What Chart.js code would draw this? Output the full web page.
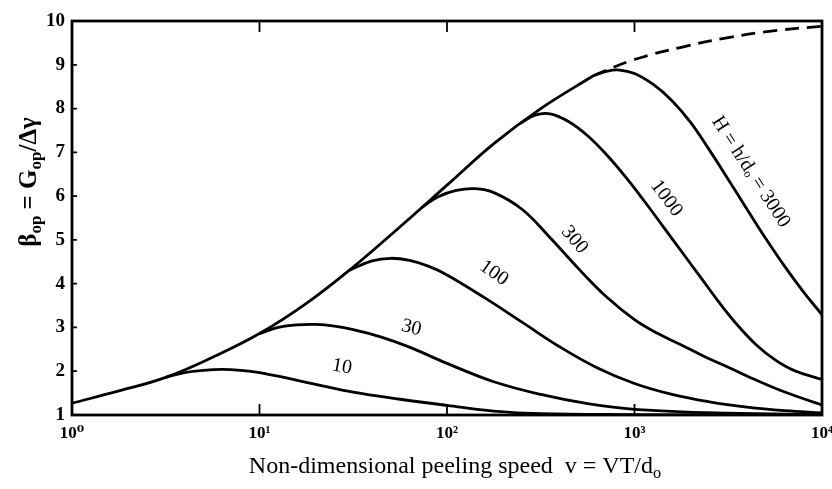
<!DOCTYPE html>
<html>
<head>
<meta charset="utf-8">
<script src="https://cdn.jsdelivr.net/npm/chart.js@4.4.0/dist/chart.umd.min.js"></script>
<style>
  html, body { margin: 0; padding: 0; background: #fff; }
  #wrap { width: 832px; height: 489px; }
</style>
</head>
<body>
<div id="wrap"><canvas id="peelChart"></canvas></div>
<script>
// every curve is a list of [log10(v), beta_op] pairs
const envelope = [
  [0.00, 1.27], [0.25, 1.55], [0.50, 1.86], [0.75, 2.32], [1.00, 2.86],
  [1.25, 3.55], [1.50, 4.38], [1.75, 5.30], [2.00, 6.25], [2.25, 7.20],
  [2.50, 8.00], [2.78, 8.75]
];
const envelopeDashed = [
  [2.78, 8.75], [3.00, 9.12], [3.25, 9.40], [3.50, 9.62], [3.75, 9.78], [4.00, 9.88]
];
const h10 = [
  [0.50, 1.86], [0.60, 1.97], [0.70, 2.02], [0.80, 2.04], [0.90, 2.02], [1.00, 1.97],
  [1.15, 1.84], [1.30, 1.70], [1.50, 1.52], [1.75, 1.36], [2.00, 1.22], [2.25, 1.09],
  [2.50, 1.03], [3.00, 1.01], [3.50, 1.00], [4.00, 1.00]
];
const h30 = [
  [1.00, 2.86], [1.10, 3.00], [1.20, 3.06], [1.30, 3.07], [1.40, 3.03], [1.50, 2.95],
  [1.65, 2.78], [1.80, 2.55], [2.00, 2.18], [2.25, 1.76], [2.50, 1.47], [2.75, 1.26],
  [3.00, 1.13], [3.50, 1.04], [4.00, 1.01]
];
const h100 = [
  [1.48, 4.31], [1.60, 4.52], [1.70, 4.58], [1.80, 4.53], [1.90, 4.40], [2.00, 4.20],
  [2.20, 3.68], [2.40, 3.12], [2.60, 2.56], [2.80, 2.08], [3.00, 1.72], [3.20, 1.47],
  [3.40, 1.30], [3.60, 1.18], [3.80, 1.10], [4.00, 1.05]
];
const h300 = [
  [1.86, 5.72], [1.95, 5.98], [2.05, 6.13], [2.15, 6.17], [2.25, 6.08], [2.40, 5.70],
  [2.55, 5.05], [2.70, 4.35], [2.85, 3.70], [3.00, 3.18], [3.125, 2.86], [3.25, 2.60],
  [3.375, 2.33], [3.50, 2.09], [3.625, 1.84], [3.75, 1.61], [3.875, 1.41], [4.00, 1.23]
];
const h1000 = [
  [2.39, 7.66], [2.47, 7.85], [2.55, 7.88], [2.65, 7.70], [2.75, 7.38], [2.85, 6.95],
  [2.95, 6.45], [3.05, 5.90], [3.15, 5.32], [3.25, 4.74], [3.35, 4.16], [3.45, 3.58],
  [3.55, 3.05], [3.65, 2.60], [3.75, 2.26], [3.85, 2.02], [4.00, 1.81]
];
const h3000 = [
  [2.78, 8.75], [2.85, 8.85], [2.92, 8.88], [3.00, 8.80], [3.10, 8.55], [3.20, 8.18],
  [3.30, 7.68], [3.40, 7.05], [3.50, 6.38], [3.60, 5.70], [3.70, 5.03], [3.80, 4.40],
  [3.90, 3.82], [4.00, 3.29]
];

const xTickValues = [1, 10, 100, 1000, 10000];
const xTickLabels = ['10⁰', '10¹', '10²', '10³', '10⁴'];
const yTickValues = [1, 2, 3, 4, 5, 6, 7, 8, 9, 10];

// curve labels, anchored in data units [log10(v), beta_op]
const curveLabels = [
  { text: '10', at: [1.44, 2.10], angle: 10 },
  { text: '30', at: [1.81, 2.99], angle: 14 },
  { text: '100', at: [2.25, 4.24], angle: 35 },
  { text: '300', at: [2.68, 5.00], angle: 50 },
  { text: '1000', at: [3.17, 5.95], angle: 53 },
  { text: 'H = h/dₒ = 3000', at: [3.62, 6.55], angle: 57 }
];

const serif = '"Liberation Serif", "DejaVu Serif", serif';

function toPoints(pairs) {
  return pairs.map(([e, b]) => ({ x: Math.pow(10, e), y: b }));
}

function curve(pairs, dashed) {
  return {
    data: toPoints(pairs),
    borderColor: '#000',
    borderWidth: 2.8,
    borderDash: dashed ? [14, 8] : [],
    pointRadius: 0,
    fill: false,
    tension: 0.4
  };
}

// draws text pieces, some of them as subscripts
function drawRich(ctx, parts, size, weight) {
  let total = 0;
  parts.forEach((p) => {
    ctx.font = `${weight} ${p.sub ? size * 0.68 : size}px ${serif}`;
    total += ctx.measureText(p.t).width;
  });
  let x = -total / 2;
  parts.forEach((p) => {
    ctx.font = `${weight} ${p.sub ? size * 0.68 : size}px ${serif}`;
    ctx.fillText(p.t, x, p.sub ? size * 0.28 : 0);
    x += ctx.measureText(p.t).width;
  });
}

const framePlugin = {
  id: 'frame',
  afterDatasetsDraw(chart) {
    const { ctx, chartArea: a, scales } = chart;
    ctx.save();
    ctx.strokeStyle = '#000';
    ctx.lineWidth = 2.8;
    ctx.strokeRect(a.left, a.top, a.right - a.left, a.bottom - a.top);

    // inward tick marks
    ctx.lineWidth = 1.8;
    ctx.beginPath();
    xTickValues.slice(1, -1).forEach((v) => {
      const px = scales.x.getPixelForValue(v);
      ctx.moveTo(px, a.bottom);
      ctx.lineTo(px, a.bottom - 11);
      ctx.moveTo(px, a.top);
      ctx.lineTo(px, a.top + 11);
    });
    yTickValues.slice(1, -1).forEach((v) => {
      const py = scales.y.getPixelForValue(v);
      ctx.moveTo(a.left, py);
      ctx.lineTo(a.left + 5, py);
    });
    ctx.stroke();

    // curve labels
    ctx.fillStyle = '#000';
    ctx.textBaseline = 'middle';
    curveLabels.forEach((lab) => {
      const px = scales.x.getPixelForValue(Math.pow(10, lab.at[0]));
      const py = scales.y.getPixelForValue(lab.at[1]);
      ctx.save();
      ctx.translate(px, py);
      ctx.rotate(lab.angle * Math.PI / 180);
      ctx.font = `20px ${serif}`;
      ctx.textAlign = 'center';
      ctx.fillText(lab.text, 0, 0);
      ctx.restore();
    });

    // axis titles
    ctx.save();
    ctx.textAlign = 'left';
    ctx.textBaseline = 'middle';
    ctx.translate(30, 182);
    ctx.rotate(-Math.PI / 2);
    drawRich(ctx, [
      { t: 'β' }, { t: 'op', sub: true }, { t: ' = G' }, { t: 'op', sub: true }, { t: '/Δγ' }
    ], 25, 'bold');
    ctx.restore();

    ctx.save();
    ctx.textAlign = 'left';
    ctx.textBaseline = 'middle';
    ctx.translate((a.left + a.right) / 2 + 8, 467);
    drawRich(ctx, [
      { t: 'Non-dimensional peeling speed  v = VT/d' }, { t: 'o', sub: true }
    ], 24, 'normal');
    ctx.restore();
    ctx.restore();
  }
};

new Chart(document.getElementById('peelChart'), {
  type: 'line',
  data: {
    datasets: [
      curve(envelope, false),
      curve(envelopeDashed, true),
      curve(h10, false),
      curve(h30, false),
      curve(h100, false),
      curve(h300, false),
      curve(h1000, false),
      curve(h3000, false)
    ]
  },
  options: {
    responsive: true,
    maintainAspectRatio: false,
    animation: false,
    layout: { padding: { top: 21, right: 0, left: 0, bottom: 0 } },
    plugins: { legend: { display: false }, tooltip: { enabled: false } },
    scales: {
      x: {
        type: 'logarithmic',
        min: 1,
        max: 10000,
        afterBuildTicks: (scale) => {
          scale.ticks = xTickValues.map((v) => ({ value: v }));
        },
        afterFit: (scale) => {
          scale.height = 74;
          scale.paddingLeft = 0;
          scale.paddingRight = 10; // let the last label run off the edge like the original
        },
        grid: { display: true, drawOnChartArea: false, drawTicks: false },
        border: { display: false },
        ticks: {
          padding: 8,
          maxRotation: 0,
          color: '#000',
          font: { family: serif, size: 17, weight: 'bold' },
          callback: (value, i) => xTickLabels[i]
        }
      },
      y: {
        min: 1,
        max: 10,
        afterBuildTicks: (scale) => {
          scale.ticks = yTickValues.map((v) => ({ value: v }));
        },
        afterFit: (scale) => { scale.width = 72; },
        grid: { display: true, drawOnChartArea: false, drawTicks: false },
        border: { display: false },
        ticks: {
          padding: 7,
          color: '#000',
          font: { family: serif, size: 19, weight: 'bold' }
        }
      }
    }
  },
  plugins: [framePlugin]
});
</script>
</body>
</html>
